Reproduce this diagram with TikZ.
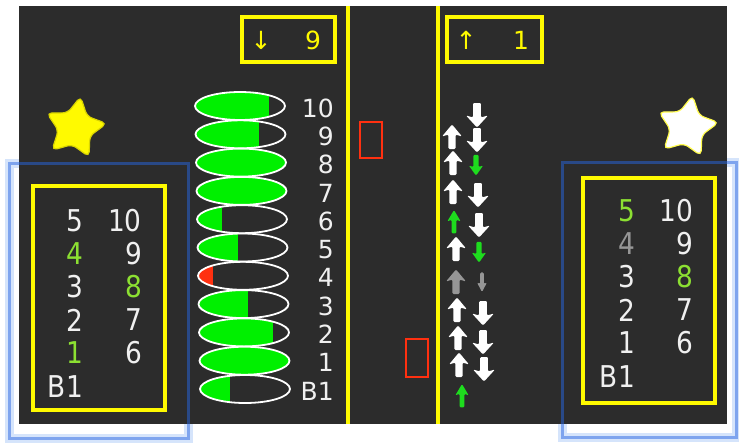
\documentclass[tikz,border=0pt]{standalone}
\usepackage{fontspec}
\setmainfont{DejaVu Sans}
\newfontfamily\condfont{DejaVu Sans}[FakeStretch=0.88]
\usetikzlibrary{shapes.geometric,arrows.meta}
\definecolor{panel}{RGB}{44,44,44}
\definecolor{ylw}{RGB}{255,250,0}
\definecolor{grn}{RGB}{0,240,0}
\definecolor{lime}{RGB}{140,224,50}
\definecolor{txtw}{RGB}{240,240,240}
\definecolor{gry}{RGB}{150,150,150}
\definecolor{redc}{RGB}{255,48,16}
\definecolor{arrgreen}{RGB}{30,220,30}
\definecolor{selblue}{RGB}{90,150,240}
\definecolor{seldark}{RGB}{40,102,227}
\tikzset{
  panelnum/.style={font=\condfont\fontsize{30}{36}\selectfont, text=txtw, anchor=east, inner sep=0pt},
  flrnum/.style={font=\fontsize{25}{30}\selectfont, text=txtw, anchor=east, inner sep=0pt},
  indtext/.style={font=\fontsize{25}{30}\selectfont, text=ylw, inner sep=0pt},
  ybox/.style={draw=ylw, line width=3.5pt},
  ylane/.style={draw=ylw, line width=4pt},
  redbox/.style={draw=redc, line width=2pt},
  selglow/.style={draw=selblue, opacity=0.25, line width=9pt},
  selline/.style={draw=seldark, opacity=0.5, line width=3pt},
  starshape/.style={star, star points=5, star point ratio=1.9, rounded corners=5pt, minimum size=64pt, inner sep=0pt, line width=1.2pt, rotate=-10},
  arrowshape/.pic={\fill[rounded corners=1.2pt] (0,-12.5) -- (10,-0.5) -- (3.6,-2.5) -- (3.6,12) -- (-3.6,12) -- (-3.6,-2.5) -- (-10,-0.5) -- cycle;}
}
\begin{document}
\begin{tikzpicture}[x=1pt,y=-1pt]
\useasboundingbox (0,0) rectangle (739,442);
\fill[white] (0,0) rectangle (739,442);
% selection glows (outside part)
\draw[selglow] (9,163) rectangle (188,438);
\draw[selglow] (562,162) rectangle (736,437);
% dark panel
\fill[panel] (19,6) rectangle (727,424);
% selection borders
\draw[selline] (9,163) rectangle (188,438);
\draw[selline] (562,162) rectangle (736,437);
% lanes
\draw[ylane] (348,6) -- (348,424);
\draw[ylane] (438,6) -- (438,424);
% top indicators
\draw[ybox] (242,17) rectangle (335,62);
\node[indtext] (dnarr) at (261,40) {↓};
\node[indtext] (dnnum) at (313,40) {9};
\draw[ybox] (447,17) rectangle (542,62);
\node[indtext] (uparr) at (466,40) {↑};
\node[indtext] (upnum) at (521,40) {1};
% red cars
\draw[redbox] (360,122) rectangle (382,158);
\draw[redbox] (406,339) rectangle (428,377);
% stars
\node[starshape, fill=ylw, draw=ylw!85!black] (lstar) at (75,128) {};
\node[starshape, fill=white, draw=ylw!70!white] (rstar) at (687,127) {};
% floor ellipses
\foreach \i/\lab/\f/\c in {0/10/0.82/grn, 1/9/0.70/grn, 2/8/1.0/grn, 3/7/1.0/grn, 4/6/0.28/grn, 5/5/0.45/grn, 6/4/0.17/redc, 7/3/0.55/grn, 8/2/0.82/grn, 9/1/1.0/grn, 10/B1/0.33/grn} {
  \pgfmathsetmacro\cy{106+28.3*\i}
  \pgfmathsetmacro\cx{240+0.5*\i}
  \begin{scope}
    \clip (\cx,\cy) ellipse [x radius=45, y radius=14];
    \fill[\c] (\cx-46,\cy-15) rectangle (\cx-45+90*\f,\cy+15);
  \end{scope}
  \draw[white, line width=1.8pt] (\cx,\cy) ellipse [x radius=45, y radius=14];
  \node[flrnum] (fl\i) at (334,\cy+2) {\lab};
}
% arrows (up column and down column)
\pic[white, rotate=180, xscale=1.1] at (477,115) {arrowshape};
\pic[white] at (452,137) {arrowshape};
\pic[white, rotate=180, xscale=1.1] at (477,140) {arrowshape};
\pic[white] at (453,163) {arrowshape};
\pic[arrgreen, rotate=180, xscale=0.72, yscale=0.85] at (476,165) {arrowshape};
\pic[white] at (453,192) {arrowshape};
\pic[white, rotate=180, xscale=1.1] at (478,195) {arrowshape};
\pic[arrgreen, xscale=0.68, yscale=0.95] at (454,222) {arrowshape};
\pic[white, rotate=180, xscale=1.1] at (479,225) {arrowshape};
\pic[white] at (456,249) {arrowshape};
\pic[arrgreen, rotate=180, xscale=0.72, yscale=0.85] at (479,252) {arrowshape};
\pic[gry] at (456,282) {arrowshape};
\pic[gry, rotate=180, xscale=0.5, yscale=0.8] at (482,282) {arrowshape};
\pic[white] at (457,310) {arrowshape};
\pic[white, rotate=180, xscale=1.1] at (483,313) {arrowshape};
\pic[white] at (458,338) {arrowshape};
\pic[white, rotate=180, xscale=1.1] at (483,342) {arrowshape};
\pic[white] at (459,365) {arrowshape};
\pic[white, rotate=180, xscale=1.1] at (484,369) {arrowshape};
\pic[arrgreen, xscale=0.68, yscale=0.95] at (462,396) {arrowshape};
% left panel
\draw[ybox] (33,186) rectangle (165,410);
\node[panelnum] (l5) at (83,221) {5};
\node[panelnum, text=lime] (l4) at (83,254) {4};
\node[panelnum] (l3) at (83,287) {3};
\node[panelnum] (l2) at (83,320) {2};
\node[panelnum, text=lime] (l1) at (83,353) {1};
\node[panelnum] (lb1) at (83,387) {B1};
\node[panelnum] (l10) at (142,221) {10};
\node[panelnum] (l9) at (142,254) {9};
\node[panelnum, text=lime] (l8) at (142,287) {8};
\node[panelnum] (l7) at (142,320) {7};
\node[panelnum] (l6) at (142,353) {6};
% right panel
\draw[ybox] (583,178) rectangle (715,403);
\node[panelnum, text=lime] (r5) at (635,211) {5};
\node[panelnum, text=gry] (r4) at (635,244) {4};
\node[panelnum] (r3) at (635,277) {3};
\node[panelnum] (r2) at (635,310) {2};
\node[panelnum] (r1) at (635,343) {1};
\node[panelnum] (rb1) at (635,377) {B1};
\node[panelnum] (r10) at (693,211) {10};
\node[panelnum] (r9) at (693,244) {9};
\node[panelnum, text=lime] (r8) at (693,277) {8};
\node[panelnum] (r7) at (693,310) {7};
\node[panelnum] (r6) at (693,343) {6};
\end{tikzpicture}
\end{document}
